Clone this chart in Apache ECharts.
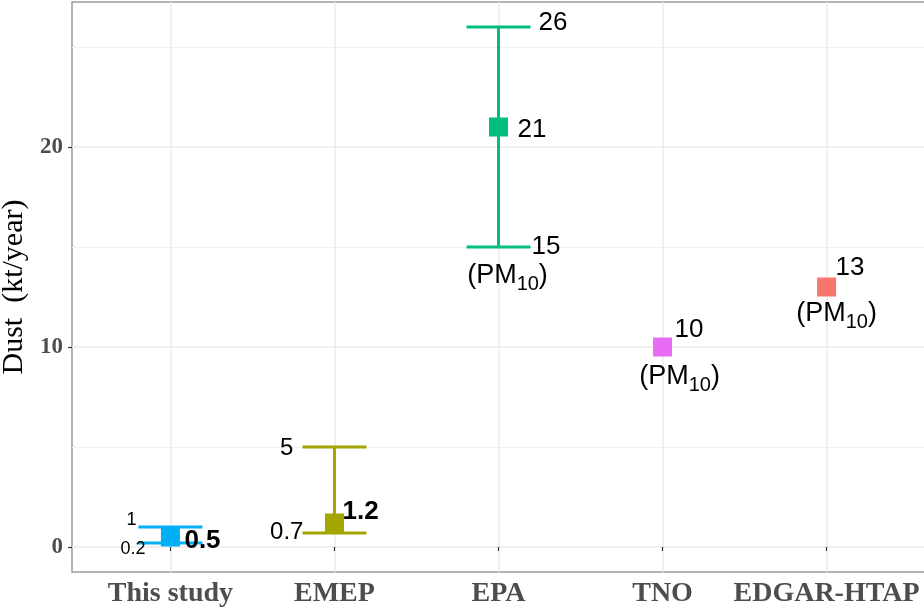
<!DOCTYPE html>
<html>
<head>
<meta charset="utf-8">
<script src="https://cdn.jsdelivr.net/npm/echarts@6/dist/echarts.min.js"></script>
<style>
  html, body { margin: 0; padding: 0; background: #fff; }
  #chart { width: 924px; height: 607px; }
</style>
</head>
<body>
<div id="chart"></div>
<script>
// Dust emission estimates (kt/year) by inventory
const categories = ['This study', 'EMEP', 'EPA', 'TNO', 'EDGAR-HTAP'];
const centralValues = [0.5, 1.2, 21, 10, 13];
const lowValues = [0.2, 0.7, 15, null, null];
const highValues = [1, 5, 26, null, null];
const speciesNotes = [null, null, 'PM10', 'PM10', 'PM10'];
const yMajorTicks = [0, 10, 20];
const yMinorTicks = [5, 15, 25];

const palette = ['#00B0F6', '#A3A500', '#00BF7D', '#E76BF3', '#F8766D'];
const SERIF = "'Liberation Serif', 'Times New Roman', serif";
const SANS = "'Liberation Sans', Arial, Helvetica, sans-serif";

// each category sits at an integer position on a numeric x axis
const xPos = categories.map((_, i) => i + 1);

// where each value label sits relative to its mark (pixels)
const labelLayout = [
  { high: { dx: -34, dy: -7, align: 'right', size: 18 },
    low:  { dx: -25, dy: 6,  align: 'right', size: 18 },
    mid:  { dx: 14,  dy: 4,  align: 'left',  size: 26, bold: true } },
  { high: { dx: -41, dy: 1,  align: 'right', size: 24 },
    low:  { dx: -31, dy: -1, align: 'right', size: 24 },
    mid:  { dx: 8,   dy: -11, align: 'left', size: 26, bold: true } },
  { high: { dx: 40,  dy: -4, align: 'left',  size: 26 },
    low:  { dx: 33,  dy: 0,  align: 'left',  size: 26 },
    mid:  { dx: 19,  dy: 3,  align: 'left',  size: 26 },
    note: { dx: 9,   dy: 31, from: 'low' } },
  { mid:  { dx: 12,  dy: -17, align: 'left', size: 26 },
    note: { dx: 17,  dy: 32, from: 'mid' } },
  { mid:  { dx: 9,   dy: -19, align: 'left', size: 26 },
    note: { dx: 10,  dy: 29, from: 'mid' } }
];

const CAP_HALF = 0.195; // half-width of error bar caps, in category units

const errorData = [];
categories.forEach((c, i) => {
  if (lowValues[i] != null && highValues[i] != null) {
    errorData.push({ value: [xPos[i], lowValues[i], highValues[i]], itemStyle: { color: palette[i] } });
  }
});

const pointData = categories.map((c, i) => ({
  value: [xPos[i], centralValues[i]],
  itemStyle: { color: palette[i], opacity: 1 }
}));

const annotationData = categories.map((c, i) => [xPos[i], centralValues[i]]);

function valueText(x, y, text, cfg) {
  return {
    type: 'text',
    style: {
      text: text,
      x: x + cfg.dx,
      y: y + cfg.dy,
      align: cfg.align,
      verticalAlign: 'middle',
      fill: '#000',
      font: (cfg.bold ? 'bold ' : '') + cfg.size + 'px ' + SANS
    }
  };
}

function noteText(note) {
  const m = note.match(/^(.*?)(\d+)$/);
  return '{n|(' + m[1] + '}{s|' + m[2] + '}{n|)}';
}

const chart = echarts.init(document.getElementById('chart'), null, { renderer: 'canvas' });

chart.setOption({
  animation: false,
  backgroundColor: '#fff',
  grid: {
    left: 72, right: -1, top: 2, bottom: 35,
    outerBoundsMode: 'none',
    containLabel: false,
    show: true, borderColor: '#9c9c9c', borderWidth: 1.5
  },
  xAxis: {
    type: 'value',
    min: 0.4,
    max: 5.6,
    axisLine: { show: false },
    axisTick: { show: true, customValues: xPos, length: 4, lineStyle: { color: '#333', width: 1.2 } },
    axisLabel: {
      customValues: xPos,
      formatter: v => categories[Math.round(v) - 1],
      fontFamily: SERIF, fontWeight: 'bold', fontSize: 28, color: '#4d4d4d', margin: 8
    },
    splitLine: { show: true, lineStyle: { color: '#ebebeb', width: 1.5 } }
  },
  yAxis: [
    {
      type: 'value',
      min: -1.25,
      max: 27.25,
      name: 'Dust  (kt/year)',
      nameLocation: 'middle',
      nameGap: 40,
      nameTextStyle: { fontFamily: SERIF, fontSize: 30, color: '#000' },
      axisLine: { show: false },
      axisTick: { show: true, customValues: yMajorTicks, length: 4, lineStyle: { color: '#333', width: 1.2 } },
      axisLabel: {
        customValues: yMajorTicks,
        fontFamily: SERIF, fontWeight: 'bold', fontSize: 23, color: '#4d4d4d', margin: 9
      },
      splitLine: { show: true, lineStyle: { color: '#ebebeb', width: 1.5 } }
    },
    {
      type: 'value',
      min: -1.25,
      max: 27.25,
      position: 'left',
      axisLine: { show: false },
      axisTick: { show: false, customValues: yMinorTicks },
      axisLabel: { show: false, customValues: yMinorTicks },
      splitLine: { show: true, lineStyle: { color: '#f0f0f0', width: 1 } }
    }
  ],
  series: [
    {
      // error bars: vertical stem plus horizontal caps
      type: 'custom',
      z: 2,
      data: errorData,
      renderItem: function (params, api) {
        const x = api.value(0);
        const lo = api.coord([x, api.value(1)]);
        const hi = api.coord([x, api.value(2)]);
        const half = api.size([CAP_HALF, 0])[0];
        const color = api.visual('color');
        const ls = { stroke: color, lineWidth: 3 };
        return {
          type: 'group',
          children: [
            { type: 'line', shape: { x1: lo[0], y1: lo[1], x2: hi[0], y2: hi[1] }, style: ls },
            { type: 'line', shape: { x1: lo[0] - half, y1: lo[1], x2: lo[0] + half, y2: lo[1] }, style: ls },
            { type: 'line', shape: { x1: hi[0] - half, y1: hi[1], x2: hi[0] + half, y2: hi[1] }, style: ls }
          ]
        };
      }
    },
    {
      // central estimates
      type: 'scatter',
      z: 3,
      symbol: 'rect',
      symbolSize: 19,
      itemStyle: { opacity: 1 },
      data: pointData
    },
    {
      // value labels and species notes
      type: 'custom',
      z: 4,
      data: annotationData,
      renderItem: function (params, api) {
        const i = params.dataIndex;
        const x = api.value(0);
        const layout = labelLayout[i];
        const children = [];
        const mid = api.coord([x, centralValues[i]]);
        let lo = null, hi = null;
        if (lowValues[i] != null) lo = api.coord([x, lowValues[i]]);
        if (highValues[i] != null) hi = api.coord([x, highValues[i]]);
        if (layout.mid) children.push(valueText(mid[0], mid[1], String(centralValues[i]), layout.mid));
        if (lo && layout.low) children.push(valueText(lo[0], lo[1], String(lowValues[i]), layout.low));
        if (hi && layout.high) children.push(valueText(hi[0], hi[1], String(highValues[i]), layout.high));
        if (speciesNotes[i] && layout.note) {
          const anchor = layout.note.from === 'low' ? lo : mid;
          children.push({
            type: 'text',
            style: {
              text: noteText(speciesNotes[i]),
              x: anchor[0] + layout.note.dx,
              y: anchor[1] + layout.note.dy,
              align: 'center',
              verticalAlign: 'middle',
              fill: '#000',
              rich: {
                n: { fontFamily: SANS, fontSize: 27, color: '#000', lineHeight: 32, verticalAlign: 'top' },
                s: { fontFamily: SANS, fontSize: 20, color: '#000', lineHeight: 18, verticalAlign: 'bottom' }
              }
            }
          });
        }
        return { type: 'group', children: children };
      }
    }
  ]
});
</script>
</body>
</html>
